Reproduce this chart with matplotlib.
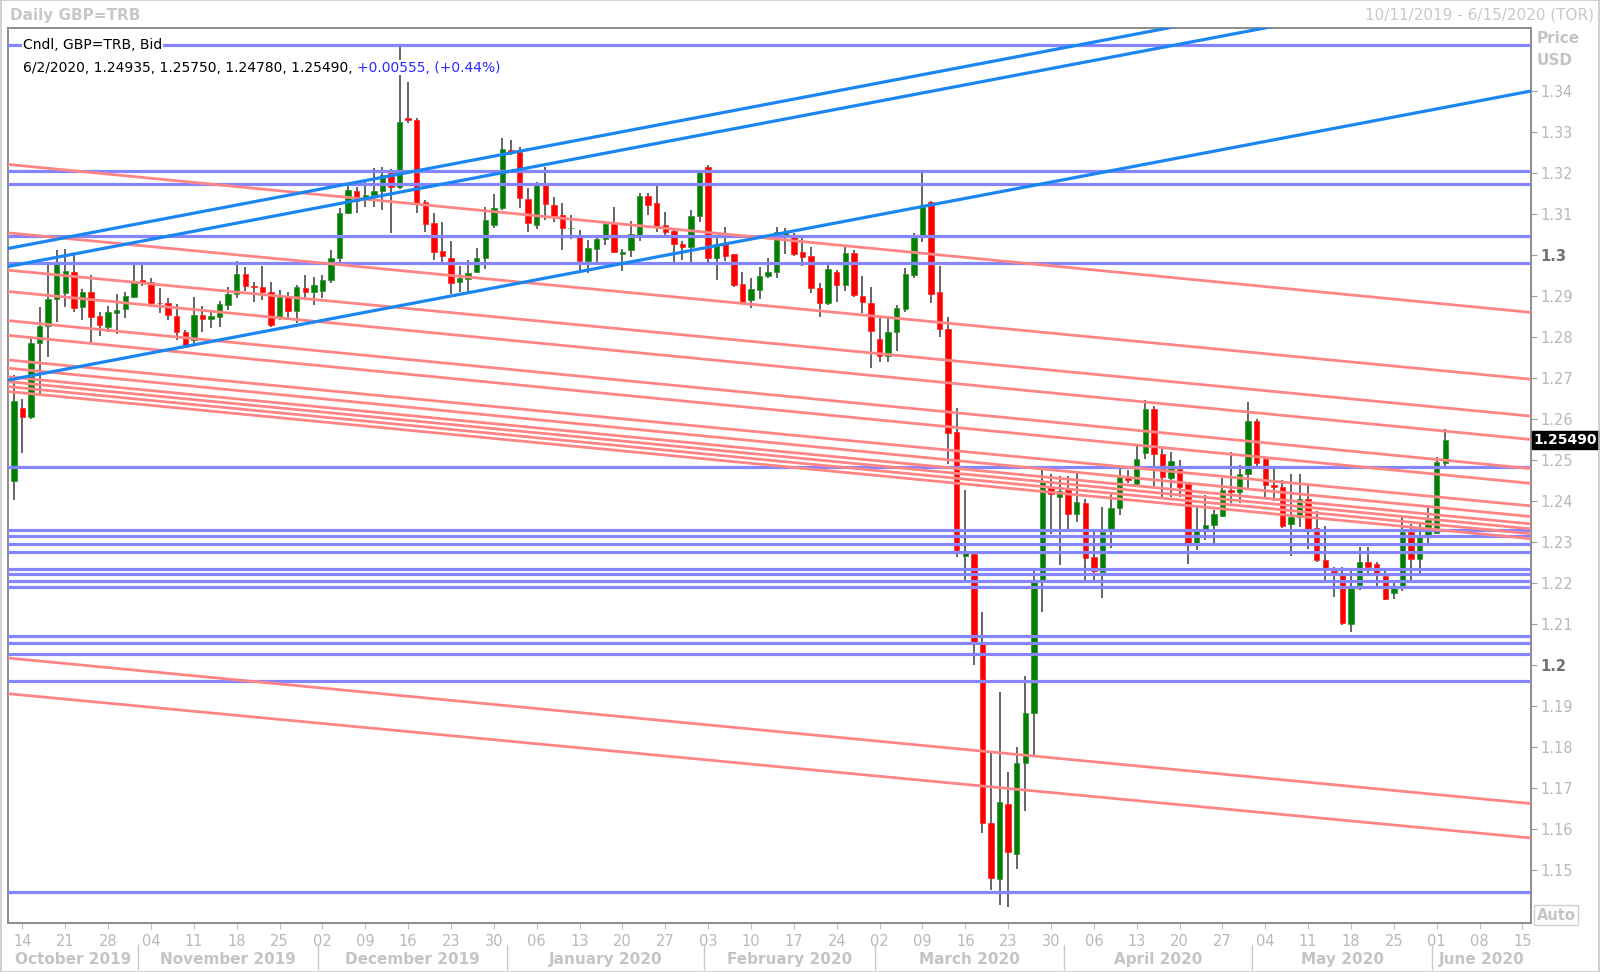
import numpy as np
import pandas as pd
import matplotlib
matplotlib.use("Agg")
import matplotlib.pyplot as plt
import matplotlib.transforms as mtransforms
from matplotlib.lines import Line2D
from matplotlib.patches import Rectangle

# daily GBP=TRB candles, 10/11/2019 .. 6/2/2020 (one per weekday)
opens = [1.2450, 1.2626, 1.2606, 1.2785, 1.2827, 1.2893, 1.2907, 1.2959, 1.2872, 1.2911,
         1.2851, 1.2825, 1.2858, 1.2868, 1.2898, 1.2939, 1.2935, 1.2884, 1.2882, 1.2851,
         1.2813, 1.2793, 1.2854, 1.2843, 1.2850, 1.2878, 1.2905, 1.2954, 1.2924, 1.2923,
         1.2911, 1.2848, 1.2898, 1.2863, 1.2919, 1.2911, 1.2912, 1.2939, 1.2992, 1.3103,
         1.3157, 1.3138, 1.3146, 1.3155, 1.3199, 1.3167, 1.3335, 1.3329, 1.3130, 1.3078,
         1.3011, 1.2992, 1.2933, 1.2941, 1.2958, 1.2992, 1.3073, 1.3114, 1.3256, 1.3252,
         1.3136, 1.3073, 1.3171, 1.3122, 1.3098, 1.3066, 1.3043, 1.2986, 1.3015, 1.3038,
         1.3076, 1.3002, 1.3012, 1.3049, 1.3144, 1.3126, 1.3073, 1.3059, 1.3027, 1.3019,
         1.3094, 1.3215, 1.2992, 1.3028, 1.3002, 1.2929, 1.2890, 1.2915, 1.2949, 1.2959,
         1.3050, 1.3043, 1.3007, 1.2998, 1.2920, 1.2882, 1.2959, 1.2928, 1.3004, 1.2900,
         1.2884, 1.2795, 1.2753, 1.2812, 1.2868, 1.2952, 1.3047, 1.3129, 1.2909, 1.2820,
         1.2569, 1.2266, 1.2270, 1.2051, 1.1615, 1.1478, 1.1660, 1.1540, 1.1760, 1.1882,
         1.2205, 1.2435, 1.2409, 1.2428, 1.2368, 1.2395, 1.2264, 1.2228, 1.2331, 1.2382,
         1.2457, 1.2441, 1.2516, 1.2624, 1.2515, 1.2455, 1.2477, 1.2441, 1.2297, 1.2330,
         1.2341, 1.2363, 1.2428, 1.2423, 1.2465, 1.2594, 1.2502, 1.2439, 1.2435, 1.2344,
         1.2362, 1.2404, 1.2333, 1.2257, 1.2230, 1.2225, 1.2100, 1.2195, 1.2252, 1.2246,
         1.2217, 1.2175, 1.2187, 1.2325, 1.2258, 1.2317, 1.2323, 1.24935]
highs = [1.2708, 1.2649, 1.2800, 1.2874, 1.2980, 1.3012, 1.3015, 1.3000, 1.2916, 1.2951,
         1.2862, 1.2876, 1.2905, 1.2911, 1.2976, 1.2976, 1.2943, 1.2919, 1.2894, 1.2881,
         1.2817, 1.2898, 1.2876, 1.2866, 1.2888, 1.2923, 1.2986, 1.2970, 1.2935, 1.2973,
         1.2933, 1.2915, 1.2911, 1.2927, 1.2951, 1.2947, 1.2951, 1.3012, 1.3114, 1.3175,
         1.3167, 1.3179, 1.3213, 1.3215, 1.3211, 1.3514, 1.3423, 1.3333, 1.3134, 1.3102,
         1.3081, 1.3033, 1.2972, 1.2989, 1.3016, 1.3118, 1.3150, 1.3285, 1.3281, 1.3264,
         1.3163, 1.3179, 1.3215, 1.3142, 1.3126, 1.3098, 1.3061, 1.3037, 1.3041, 1.3079,
         1.3118, 1.3014, 1.3084, 1.3152, 1.3152, 1.3168, 1.3106, 1.3061, 1.3033, 1.3111,
         1.3207, 1.3220, 1.3045, 1.3069, 1.3003, 1.2959, 1.2945, 1.2970, 1.2992, 1.3069,
         1.3065, 1.3053, 1.3049, 1.3020, 1.2931, 1.2976, 1.2963, 1.3020, 1.3012, 1.2949,
         1.2923, 1.2846, 1.2846, 1.2878, 1.2969, 1.3053, 1.3200, 1.3131, 1.2974, 1.2849,
         1.2628, 1.2426, 1.2272, 1.2130, 1.1790, 1.1934, 1.1738, 1.1800, 1.1974, 1.2230,
         1.2480, 1.2465, 1.2462, 1.2460, 1.2471, 1.2406, 1.2328, 1.2386, 1.2421, 1.2482,
         1.2476, 1.2538, 1.2646, 1.2632, 1.2526, 1.2520, 1.2500, 1.2441, 1.2388, 1.2414,
         1.2378, 1.2455, 1.2520, 1.2488, 1.2642, 1.2599, 1.2504, 1.2477, 1.2451, 1.2467,
         1.2467, 1.2436, 1.2376, 1.2339, 1.2240, 1.2238, 1.2230, 1.2288, 1.2288, 1.2252,
         1.2230, 1.2202, 1.2360, 1.2345, 1.2345, 1.2390, 1.2507, 1.25750]
lows = [1.2403, 1.2516, 1.2599, 1.2659, 1.2752, 1.2837, 1.2872, 1.2862, 1.2841, 1.2789,
        1.2802, 1.2813, 1.2807, 1.2846, 1.2894, 1.2924, 1.2874, 1.2859, 1.2841, 1.2793,
        1.2772, 1.2781, 1.2813, 1.2821, 1.2824, 1.2866, 1.2896, 1.2912, 1.2886, 1.2890,
        1.2825, 1.2842, 1.2841, 1.2833, 1.2894, 1.2878, 1.2894, 1.2931, 1.2984, 1.3101,
        1.3102, 1.3118, 1.3118, 1.3110, 1.3053, 1.3160, 1.3321, 1.3102, 1.3057, 1.2988,
        1.2984, 1.2905, 1.2911, 1.2907, 1.2955, 1.2967, 1.3065, 1.3110, 1.3244, 1.3114,
        1.3055, 1.3063, 1.3085, 1.3081, 1.3012, 1.3040, 1.2959, 1.2955, 1.2984, 1.3024,
        1.3004, 1.2962, 1.2996, 1.3033, 1.3098, 1.3057, 1.3041, 1.2981, 1.2988, 1.2981,
        1.3081, 1.2980, 1.2939, 1.2985, 1.2923, 1.2880, 1.2870, 1.2892, 1.2943, 1.2943,
        1.3003, 1.2998, 1.2972, 1.2908, 1.2850, 1.2878, 1.2886, 1.2913, 1.2898, 1.2858,
        1.2724, 1.2739, 1.2739, 1.2767, 1.2862, 1.2943, 1.3032, 1.2883, 1.2801, 1.2491,
        1.2264, 1.2208, 1.2001, 1.1590, 1.1450, 1.1415, 1.1410, 1.1502, 1.1643, 1.1777,
        1.2130, 1.2320, 1.2244, 1.2331, 1.2348, 1.2208, 1.2205, 1.2163, 1.2286, 1.2365,
        1.2443, 1.2439, 1.2502, 1.2436, 1.2410, 1.2409, 1.2409, 1.2246, 1.2280, 1.2306,
        1.2297, 1.2362, 1.2394, 1.2394, 1.2427, 1.2484, 1.2410, 1.2400, 1.2333, 1.2266,
        1.2337, 1.2284, 1.2252, 1.2207, 1.2165, 1.2097, 1.2080, 1.2183, 1.2224, 1.2187,
        1.2159, 1.2162, 1.2181, 1.2207, 1.2224, 1.2295, 1.2321, 1.24780]
closes = [1.2645, 1.2606, 1.2785, 1.2827, 1.2893, 1.2984, 1.2962, 1.2870, 1.2911, 1.2850,
          1.2829, 1.2862, 1.2866, 1.2900, 1.2937, 1.2935, 1.2882, 1.2882, 1.2854, 1.2813,
          1.2776, 1.2854, 1.2843, 1.2851, 1.2881, 1.2905, 1.2954, 1.2924, 1.2921, 1.2911,
          1.2829, 1.2898, 1.2863, 1.2921, 1.2911, 1.2927, 1.2939, 1.2992, 1.3103, 1.3158,
          1.3132, 1.3146, 1.3155, 1.3195, 1.3167, 1.3325, 1.3330, 1.3126, 1.3076, 1.3008,
          1.2998, 1.2931, 1.2943, 1.2955, 1.2992, 1.3085, 1.3114, 1.3258, 1.3252, 1.3138,
          1.3079, 1.3171, 1.3124, 1.3094, 1.3065, 1.3067, 1.2986, 1.3016, 1.3039, 1.3076,
          1.3008, 1.3008, 1.3051, 1.3144, 1.3122, 1.3071, 1.3057, 1.3027, 1.3019, 1.3094,
          1.3203, 1.2992, 1.3028, 1.2998, 1.2927, 1.2882, 1.2916, 1.2950, 1.2959, 1.3057,
          1.3055, 1.3003, 1.2996, 1.2920, 1.2882, 1.2965, 1.2927, 1.3004, 1.2902, 1.2886,
          1.2815, 1.2753, 1.2812, 1.2871, 1.2954, 1.3044, 1.3123, 1.2905, 1.2820, 1.2566,
          1.2281, 1.2272, 1.2057, 1.1615, 1.1480, 1.1665, 1.1545, 1.1761, 1.1884, 1.2205,
          1.2449, 1.2417, 1.2424, 1.2368, 1.2398, 1.2261, 1.2230, 1.2325, 1.2382, 1.2461,
          1.2451, 1.2502, 1.2624, 1.2515, 1.2458, 1.2498, 1.2435, 1.2297, 1.2327, 1.2341,
          1.2368, 1.2428, 1.2423, 1.2465, 1.2594, 1.2492, 1.2439, 1.2435, 1.2339, 1.2362,
          1.2406, 1.2331, 1.2257, 1.2236, 1.2225, 1.2102, 1.2191, 1.2252, 1.2240, 1.2219,
          1.2162, 1.2187, 1.2325, 1.2258, 1.2313, 1.2354, 1.2494, 1.25490]

# drawn support / resistance levels
blue_levels = [1.3512, 1.3204, 1.3172, 1.3047, 1.2980, 1.2483, 1.2329, 1.2315, 1.2294,
               1.2276, 1.2233, 1.2222, 1.2205, 1.2191, 1.2071, 1.2054, 1.2027, 1.1960, 1.1447]
# trend lines: price at left edge / right edge of the chart
blue_left = [1.3016, 1.2972, 1.2695]
blue_right = [1.3722, 1.3677, 1.3400]
red_left = [1.3221, 1.3054, 1.2963, 1.2911, 1.2840, 1.2804, 1.2744, 1.2724, 1.2703,
            1.2691, 1.2679, 1.2667, 1.2017, 1.1930]
red_right = [1.2860, 1.2697, 1.2607, 1.2550, 1.2479, 1.2443, 1.2388, 1.2362, 1.2344,
             1.2332, 1.2320, 1.2308, 1.1662, 1.1578]

price_ticks = [1.15, 1.16, 1.17, 1.18, 1.19, 1.2, 1.21, 1.22, 1.23, 1.24, 1.25, 1.26,
               1.27, 1.28, 1.29, 1.3, 1.31, 1.32, 1.33, 1.34]
last_price = 1.25490

dates = pd.bdate_range("2019-10-11", "2020-06-15")
x_all = np.arange(len(dates)) - 1          # 10/14/2019 -> 0
x = np.arange(len(opens)) - 1
x_left, x_right = -1.66, 176.0

grey = "#b8b8b8"
fig = plt.figure(figsize=(16, 9.72), dpi=100)
fig.patches.append(Rectangle((0.0005, 0.0005), 0.999, 0.999, transform=fig.transFigure,
                             fill=False, edgecolor="#c8c8c8", lw=1.2))
ax = fig.add_axes([0.00513, 0.05041, 0.95175, 0.92078])
ax.set_xlim(x_left, x_right)
ax.set_ylim(1.13707, 1.35537)

# candles
o = np.array(opens); h = np.array(highs); l = np.array(lows); c = np.array(closes)
up = c >= o
ax.vlines(x, l, h, color="#3a3a3a", lw=1.1, zorder=2)
body = np.maximum(np.abs(c - o), 0.00009)
ax.bar(x[up], body[up], bottom=o[up], width=0.64, color="#008000",
       edgecolor="#2e8b2e", lw=0.5, zorder=2.5)
ax.bar(x[~up], body[~up], bottom=c[~up], width=0.64, color="#ff0000",
       edgecolor="#ff2020", lw=0.5, zorder=2.5)

# drawings
for p in blue_levels:
    ax.axhline(p, color="#8585ff", lw=2.3, zorder=3)
for p0, p1 in zip(red_left, red_right):
    ax.plot([x_left, x_right], [p0, p1], color="#ff8585", lw=2.0, zorder=3)
for p0, p1 in zip(blue_left, blue_right):
    ax.plot([x_left, x_right], [p0, p1], color="#1a86f2", lw=2.3, zorder=3)

# frame and axes
for s in ax.spines.values():
    s.set_color("#8c8c8c")
    s.set_linewidth(1.4)
ax.yaxis.tick_right()
ax.set_yticks(price_ticks)
ax.set_yticklabels([f"{t:g}" for t in price_ticks])
ax.tick_params(axis="y", direction="out", length=4, color="#a0a0a0", pad=3,
               labelsize=10.5, labelcolor=grey)
for lab, t in zip(ax.get_yticklabels(), price_ticks):
    if t in (1.2, 1.3):
        lab.set_fontweight("bold")
        lab.set_color("#707070")

mondays = x_all[dates.weekday == 0]
ax.set_xticks(mondays)
ax.set_xticklabels(dates[dates.weekday == 0].strftime("%d"))
ax.tick_params(axis="x", direction="out", length=4, color="#c0c0c0", pad=4,
               labelsize=10.5, labelcolor=grey)

# month band under the day numbers
firsts = [i for i in range(1, len(dates)) if dates[i].month != dates[i - 1].month]
seps = [x_all[i] - 0.5 for i in firsts]
blend = mtransforms.blended_transform_factory(ax.transData, fig.transFigure)
for s in seps:
    fig.add_artist(Line2D([s, s], [0.003, 0.028], transform=blend, color="#c8c8c8", lw=1))
edges = [x_left] + seps + [x_right]
starts = [0] + firsts
for k in range(len(edges) - 1):
    fig.text((edges[k] + edges[k + 1]) / 2, 0.0125, dates[starts[k]].strftime("%B %Y"),
             transform=blend, ha="center", va="center", fontsize=11, fontweight="bold",
             color="#c4c4c4")

# titles and labels
fig.text(0.0065, 0.9845, "Daily GBP=TRB", fontsize=11, fontweight="bold", color="#c8c8c8",
         va="center")
fig.text(0.9965, 0.9845, "10/11/2019 - 6/15/2020 (TOR)", fontsize=11, color="#c8c8c8",
         va="center", ha="right")
fig.text(0.9605, 0.9605, "Price", fontsize=11, fontweight="bold", color="#c4c4c4", va="center")
fig.text(0.9605, 0.938, "USD", fontsize=11, fontweight="bold", color="#c4c4c4", va="center")

box = dict(facecolor="white", edgecolor="none", pad=0.6)
ax.text(0.0095, 0.9808, "Cndl, GBP=TRB, Bid", transform=ax.transAxes, fontsize=10,
        va="center", zorder=5, bbox=box)
t1 = ax.text(0.0095, 0.9557, "6/2/2020, 1.24935, 1.25750, 1.24780, 1.25490, ",
             transform=ax.transAxes, fontsize=10, va="center", zorder=5, bbox=box)
fig.canvas.draw()
bb = t1.get_window_extent()
ax.text(bb.x1 / fig.bbox.width, (bb.y0 + bb.y1) / 2 / fig.bbox.height,
        "+0.00555, (+0.44%)", transform=fig.transFigure, fontsize=10, color="#2b2bff",
        va="center", zorder=5, bbox=box)

ax.annotate(f"{last_price:.5f}", xy=(1.0, last_price), xycoords=("axes fraction", "data"),
            xytext=(2, 0), textcoords="offset points", ha="left", va="center",
            fontsize=10, fontweight="bold", color="white", annotation_clip=False,
            bbox=dict(facecolor="black", edgecolor="black", pad=1.2))

fig.text(0.9725, 0.0585, "Auto", fontsize=10.5, fontweight="bold", color="#c4c4c4",
         ha="center", va="center",
         bbox=dict(facecolor="white", edgecolor="#d0d0d0", pad=2))

plt.savefig("out.png", dpi=100)
